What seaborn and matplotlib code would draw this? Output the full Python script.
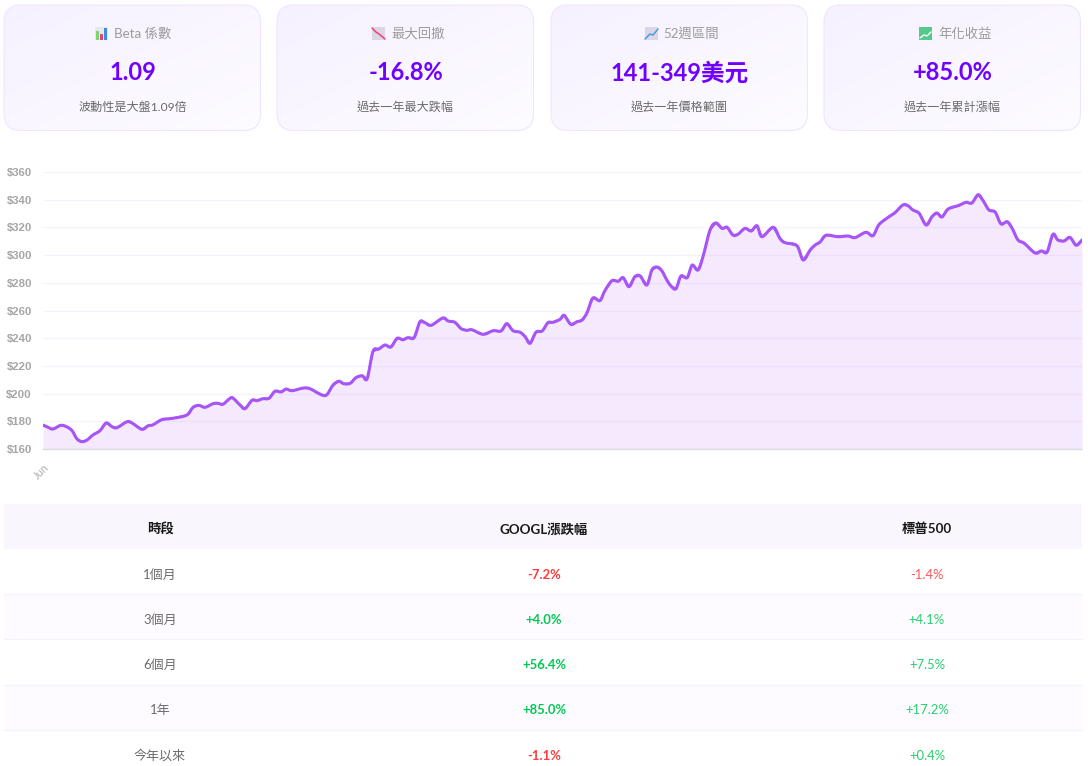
"""GOOGL 風險指標卡片、一年股價走勢與漲跌幅對比表"""

import numpy as np
import pandas as pd
import matplotlib
matplotlib.use("Agg")
import matplotlib.pyplot as plt
import seaborn as sns
from matplotlib.patches import FancyBboxPatch, PathPatch, Rectangle
from matplotlib.path import Path

# ==================== 資料 ====================
card_labels = ["Beta 係數", "最大回撤", "52週區間", "年化收益"]
card_values = ["1.09", "-16.8%", "141-349美元", "+85.0%"]
card_notes = ["波動性是大盤1.09倍", "過去一年最大跌幅", "過去一年價格範圍", "過去一年累計漲幅"]

trading_days = [
    0.0, 1.2, 2.4, 4.3, 5.8, 7.0, 8.2, 9.4, 10.6, 12.0,
    13.7, 15.2, 16.6, 17.8, 20.2, 21.4, 23.8, 25.3, 26.5, 28.6,
    31.3, 34.6, 36.1, 37.5, 39.0, 40.9, 42.1, 43.3, 45.0, 45.7,
    47.4, 48.6, 50.3, 51.5, 52.9, 54.4, 55.8, 57.3, 58.5, 59.9,
    62.6, 64.0, 65.4, 67.1, 68.3, 69.8, 71.2, 72.4, 73.9, 75.3,
    76.8, 78.0, 79.4, 80.8, 82.3, 83.7, 85.2, 86.6, 87.8, 89.3,
    90.7, 91.9, 93.4, 96.2, 97.5, 99.1, 100.6, 102.0, 103.2, 105.9,
    108.3, 110.2, 111.6, 113.1, 114.8, 116.0, 117.2, 118.6, 120.1, 121.5,
    122.7, 124.4, 125.4, 127.0, 128.5, 129.7, 130.9, 132.3, 134.0, 135.2,
    136.9, 138.4, 139.6, 141.0, 142.4, 143.7, 145.3, 146.5, 147.7, 148.9,
    150.1, 151.1, 152.3, 153.5, 155.0, 156.2, 157.6, 158.8, 160.5, 161.9,
    163.4, 164.6, 166.0, 167.2, 168.9, 170.4, 171.8, 173.0, 175.7, 177.3,
    178.5, 181.4, 182.9, 184.6, 185.8, 187.0, 188.4, 191.3, 193.7, 195.4,
    198.0, 199.7, 201.2, 203.8, 205.0, 206.9, 208.1, 209.3, 210.8, 212.5,
    213.9, 215.1, 216.3, 217.8, 220.2, 222.1, 223.5, 225.0, 226.2, 227.6,
    229.1, 230.5, 232.0, 233.2, 234.6, 236.1, 238.7, 240.2, 241.6, 243.0,
    244.2, 245.7, 247.1, 248.6, 250.0,
]
prices = [
    177.3, 175.7, 174.4, 177.1, 175.9, 173.2, 167.2, 165.3, 166.5, 170.1,
    173.2, 178.8, 176.1, 175.4, 179.7, 178.8, 174.2, 176.8, 177.5, 181.2,
    182.2, 184.5, 190.1, 191.5, 190.1, 192.7, 193.0, 192.3, 196.6, 196.8,
    191.8, 189.1, 195.2, 194.9, 196.3, 196.6, 201.7, 201.2, 203.3, 202.1,
    204.0, 203.8, 201.7, 199.0, 199.2, 206.2, 208.9, 207.1, 207.4, 211.5,
    212.9, 210.8, 230.5, 232.2, 235.1, 233.6, 239.9, 238.9, 240.4, 240.4,
    251.9, 251.2, 249.3, 254.6, 252.4, 251.5, 246.9, 245.7, 246.1, 242.8,
    245.4, 245.2, 250.5, 245.4, 244.3, 241.1, 236.3, 244.3, 245.2, 251.2,
    251.5, 253.6, 256.5, 250.0, 251.9, 253.1, 258.4, 269.0, 267.1, 274.3,
    281.5, 281.1, 283.7, 277.2, 284.4, 284.9, 278.4, 289.2, 291.4, 288.7,
    282.0, 277.7, 275.7, 284.9, 283.7, 292.8, 289.2, 298.8, 318.1, 323.2,
    319.3, 320.1, 314.5, 315.0, 319.3, 317.4, 321.2, 313.3, 320.1, 312.1,
    309.0, 306.8, 296.5, 303.7, 307.3, 309.5, 314.3, 313.3, 313.8, 312.6,
    316.5, 314.0, 322.2, 328.2, 330.6, 336.2, 335.7, 332.6, 330.2, 321.7,
    327.7, 330.4, 327.5, 333.3, 335.7, 338.1, 337.6, 343.6, 339.3, 332.6,
    331.1, 322.5, 324.1, 319.3, 310.9, 308.5, 301.5, 303.0, 302.2, 315.0,
    310.9, 310.2, 312.8, 307.1, 310.9,
]
price_ticks = [160, 180, 200, 220, 240, 260, 280, 300, 320, 340, 360]
month_ticks = [0]
month_labels = ["Jun"]

table_header = ["時段", "GOOGL漲跌幅", "標普500"]
periods = ["1個月", "3個月", "6個月", "1年", "今年以來"]
googl_changes = ["-7.2%", "+4.0%", "+56.4%", "+85.0%", "-1.1%"]
spx_changes = ["-1.4%", "+4.1%", "+7.5%", "+17.2%", "+0.4%"]

# ==================== 風格 ====================
sns.set_theme(style="white")
FONT = ["Lato", "Noto Sans CJK TC", "DejaVu Sans"]
plt.rcParams["font.family"] = FONT
plt.rcParams["axes.unicode_minus"] = False

PURPLE = "#7000ff"
LINE = "#a855f7"
RED = "#ff3b3b"
GREEN = "#00c853"


def draw_icon(ax, kind, x, y):
    """卡片標題前的小圖示, (x, y) 為 14px 方塊左上角"""
    if kind == "bars":
        ax.add_patch(Rectangle((x, y), 13, 13, fc="#e8e6ee", ec="none", zorder=3))
        ax.add_patch(Rectangle((x + 1, y + 4), 3, 9, fc="#7ed56f", ec="none", zorder=4))
        ax.add_patch(Rectangle((x + 5, y + 7), 3, 6, fc="#e0457b", ec="none", zorder=4))
        ax.add_patch(Rectangle((x + 9, y + 1), 3, 12, fc="#3f8fd8", ec="none", zorder=4))
    elif kind == "down":
        ax.add_patch(Rectangle((x, y), 13, 13, fc="#ddd6e6", ec="none", zorder=3))
        ax.plot([x, x + 4, x + 7, x + 13], [y + 1, y + 5, y + 7, y + 12],
                color="#e8406f", lw=1.1, zorder=4)
    elif kind == "up":
        ax.add_patch(Rectangle((x, y), 13, 13, fc="#ddd6e6", ec="none", zorder=3))
        ax.plot([x, x + 5, x + 8, x + 13], [y + 12, y + 7, y + 8, y + 2],
                color="#4a9ee0", lw=1.1, zorder=4)
    else:
        ax.add_patch(Rectangle((x, y), 13, 13, fc="#55c98a", ec="none", zorder=3))
        ax.plot([x + 1, x + 5, x + 8, x + 12], [y + 11, y + 8, y + 9, y + 5],
                color="white", lw=1.0, zorder=4)


def draw_cards(ax):
    card_left = [4, 277, 551, 824]
    icon_left = [95, 372, 645, 919]
    label_left = [114, 391, 663, 938]
    icons = ["bars", "down", "up", "yen"]
    gradient = np.linspace(0, 1, 200).reshape(1, -1) + np.linspace(0, 1, 200).reshape(-1, 1)
    cmap = matplotlib.colors.LinearSegmentedColormap.from_list("card", ["#f6f1ff", "#fdfcff"])
    for i, left in enumerate(card_left):
        box = FancyBboxPatch((left, 5), 256.5, 125.5,
                             boxstyle="round,pad=0,rounding_size=17",
                             fc="none", ec="#efe5ff", lw=0.8, zorder=2)
        ax.add_patch(box)
        img = ax.imshow(gradient, extent=(left, left + 257, 131, 5), cmap=cmap,
                        aspect="auto", zorder=1)
        img.set_clip_path(box)
        draw_icon(ax, icons[i], icon_left[i], 27)
        ax.text(label_left[i], 33.5, card_labels[i], ha="left", va="center",
                fontsize=9.6, color="#9c9c9c")
        ax.text(left + 128.5, 73, card_values[i], ha="center", va="center",
                fontsize=17, fontweight="bold", color=PURPLE)
        ax.text(left + 128.5, 107, card_notes[i], ha="center", va="center",
                fontsize=8.7, color="#6b6b6b")
    ax.set_xlim(0, 1088)
    ax.set_ylim(766, 0)


def draw_table(ax):
    col_x = [160, 544, 927]
    row_top = [549, 594, 639, 685, 730]
    row_text = [575, 620, 665, 710, 755.5]
    ax.add_patch(Rectangle((4, 504), 1078, 45, fc="#f9f7fd", ec="none"))
    for x, title in zip(col_x, table_header):
        ax.text(x, 529, title, ha="center", va="center", fontsize=9.6,
                fontweight="bold", color="#1a1a1a")
    for i, period in enumerate(periods):
        if i % 2 == 1:
            ax.add_patch(Rectangle((4, row_top[i]), 1078, row_top[i + 1] - row_top[i],
                                   fc="#fdfbff", ec="none"))
        if i > 0:
            ax.plot([4, 1082], [row_top[i], row_top[i]], color="#f6f2fb", lw=1.0)
        ax.text(col_x[0], row_text[i], period, ha="center", va="center",
                fontsize=9.4, color="#6b6b6b")
        for x, change, weight in ((col_x[1], googl_changes[i], "bold"),
                                  (col_x[2], spx_changes[i], "normal")):
            ax.text(x, row_text[i], change, ha="center", va="center", fontsize=9.4,
                    fontweight=weight, color=RED if change.startswith("-") else GREEN,
                    alpha=1.0 if weight == "bold" else 0.85)


def smooth_path(xs, ys):
    """把折線頂點接成平滑曲線 (Catmull-Rom 轉 Bezier), 頂點不變"""
    pts = np.column_stack([xs, ys])
    prev_pts = np.vstack([pts[0], pts[:-1]])
    next_pts = np.vstack([pts[1:], pts[-1]])
    slope = (next_pts - prev_pts) / 6.0
    verts = [pts[0]]
    codes = [Path.MOVETO]
    for i in range(len(pts) - 1):
        verts += [pts[i] + slope[i], pts[i + 1] - slope[i + 1], pts[i + 1]]
        codes += [Path.CURVE4] * 3
    return Path(verts, codes)


def draw_chart(ax):
    data = pd.DataFrame({"day": trading_days, "price": prices})
    # 半透明填色, 讓格線透出來
    ax.fill_between(data["day"], 160, data["price"], color=LINE, alpha=0.125, lw=0, zorder=1)
    sns.lineplot(data=data, x="day", y="price", color=LINE, linewidth=1.4, ax=ax, zorder=3)
    ax.add_patch(PathPatch(smooth_path(data["day"].values, data["price"].values),
                           fc="none", ec=LINE, lw=2.2, capstyle="round",
                           joinstyle="round", zorder=4))
    ax.set_xlim(0, 250)
    ax.set_ylim(160, 360)
    ax.set_xlabel("")
    ax.set_ylabel("")
    ax.set_yticks(price_ticks)
    ax.set_yticklabels([f"${v}" for v in price_ticks], fontsize=8.2, color="#a6a6a6",
                       fontweight="bold", family=["Liberation Sans"])
    ax.set_xticks(month_ticks)
    ax.set_xticklabels(month_labels, fontsize=7.8, color="#b0b0b0", rotation=45,
                       ha="right", rotation_mode="anchor")
    ax.tick_params(axis="y", length=0, pad=8)
    ax.tick_params(axis="x", length=0, pad=9)
    ax.grid(axis="y", color="#f6f2fd", lw=1.0)
    ax.set_axisbelow(True)
    for name in ("top", "right", "left"):
        ax.spines[name].set_visible(False)
    ax.spines["bottom"].set_color("#dedbe3")
    ax.spines["bottom"].set_linewidth(1.0)
    ax.patch.set_alpha(0)


fig = plt.figure(figsize=(10.88, 7.66), dpi=100, facecolor="white")

page = fig.add_axes([0, 0, 1, 1], zorder=0)
page.axis("off")
draw_cards(page)
draw_table(page)
page.set_xlim(0, 1088)
page.set_ylim(766, 0)

chart = fig.add_axes([43 / 1088, 1 - 449 / 766, (1082 - 43) / 1088, (449 - 172) / 766], zorder=1)
draw_chart(chart)

fig.savefig("out.png", dpi=100)
